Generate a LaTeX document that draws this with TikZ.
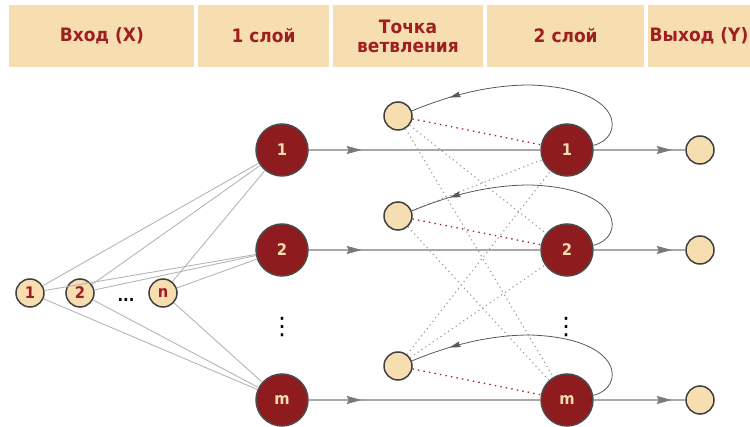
\documentclass[tikz,border=0pt]{standalone}
\usepackage{fontspec}
\usepackage{xcolor}
\newfontfamily\hdrfont{DejaVu Sans}[FakeStretch=0.92]
\newfontfamily\dotfont{DejaVu Sans}
\usetikzlibrary{arrows.meta,decorations.markings}

\definecolor{wheat}{HTML}{F7DEB1}
\definecolor{darkred}{HTML}{8E1B1E}
\definecolor{txtred}{HTML}{9E1E22}
\definecolor{linegray}{HTML}{A8A8A8}
\definecolor{tipgray}{HTML}{7A7A7A}

\tikzset{
  arrowat/.style={postaction={decorate},
    decoration={markings, mark=at position #1 with {\arrow{Stealth[length=15pt,width=8pt,inset=2pt,color=tipgray]}}}},
  fbarrow/.style={postaction={decorate},
    decoration={markings, mark=at position #1 with {\arrow{Stealth[length=11pt,width=6pt,inset=1.5pt]}}}}
}

\begin{document}
\begin{tikzpicture}[x=1pt,y=-1pt,
    hdr/.style={fill=wheat, minimum height=61.7, inner sep=0, text=txtred, align=center,
      font=\hdrfont\bfseries\fontsize{18.5}{19}\selectfont},
    bignode/.style={circle, fill=darkred, draw=black!70, line width=1.5pt, minimum size=52,
      inner sep=0, text=wheat, font=\hdrfont\bfseries\fontsize{16}{16}\selectfont},
    smallnode/.style={circle, fill=wheat, draw=black!75, line width=1.5pt, minimum size=28,
      inner sep=0, text=txtred, font=\hdrfont\bfseries\fontsize{16}{16}\selectfont},
    vdotsnode/.style={inner sep=0, font=\dotfont\fontsize{24}{24}\selectfont},
    inline/.style={draw=linegray!85, line width=0.9pt},
    hline/.style={draw=linegray, line width=1.6pt},
    reddot/.style={draw=txtred, line width=1.3pt, dash pattern=on 1.4pt off 4.2pt},
    graydot/.style={draw=gray!80, line width=1.1pt, dash pattern=on 1.2pt off 3.4pt},
    fb/.style={draw=black!65, line width=0.8pt}]

  \useasboundingbox (0,0) rectangle (750,427);

  % header
  \node[hdr, minimum width=185] (hIn) at (101.8,35.9) {Вход (X)};
  \node[hdr, minimum width=131] (hL1) at (263.5,35.9) {1 слой};
  \node[hdr, minimum width=150.6] (hBr) at (408,35.9) {Точка\\ветвления};
  \node[hdr, minimum width=156.7] (hL2) at (565.7,35.9) {2 слой};
  \node[hdr, minimum width=103] (hOut) at (699,35.9) {Выход (Y)};

  % inputs
  \node[smallnode] (x1) at (30,293) {1};
  \node[smallnode] (x2) at (80,293) {2};
  \node[smallnode] (xn) at (163,293) {n};
  \node[font=\hdrfont\bfseries\fontsize{16}{16}\selectfont, inner sep=0] (xDots) at (126,300) {...};

  % layer 1
  \node[bignode] (a1) at (282,150) {1};
  \node[bignode] (a2) at (282,250) {2};
  \node[bignode] (am) at (282,400) {m};
  \node[vdotsnode] (aDots) at (282,327) {⋮};

  % branch points
  \node[smallnode] (b1) at (398,116) {};
  \node[smallnode] (b2) at (398,216) {};
  \node[smallnode] (bm) at (398,366) {};

  % layer 2
  \node[bignode] (c1) at (567,150) {1};
  \node[bignode] (c2) at (567,250) {2};
  \node[bignode] (cm) at (567,400) {m};
  \node[vdotsnode] (cDots) at (566,327) {⋮};

  % outputs
  \node[smallnode] (o1) at (700,150) {};
  \node[smallnode] (o2) at (700,250) {};
  \node[smallnode] (om) at (700,400) {};

  % input -> layer 1
  \foreach \i in {1,2,n}
    \foreach \j in {1,2,m}
      \draw[inline] (x\i) -- (a\j);

  % cross links of the branch points
  \foreach \i/\j in {1/2,1/m,2/1,2/m,m/1,m/2}
    \draw[graydot] (b\i) -- (c\j);

  \foreach \r/\dy in {1/0,2/100,m/250}{
    \draw[hline, arrowat=53pt] (a\r) -- (c\r);
    \draw[hline, arrowat=78pt] (c\r) -- (o\r);
    \draw[reddot] (b\r) -- (c\r);
    % feedback loop
    \draw[fb, fbarrow=0.84] (c\r.10) .. controls (625,{138+\dy}) and (625,{88+\dy}) .. (530,{85+\dy})
      .. controls (490,{85+\dy}) and (450,{95+\dy}) .. (b\r.20);
  }
\end{tikzpicture}
\end{document}
